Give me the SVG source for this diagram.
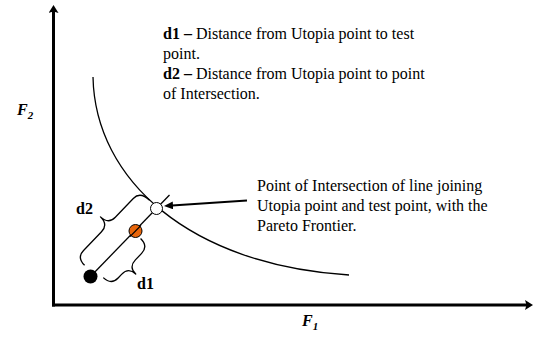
<svg xmlns="http://www.w3.org/2000/svg" width="538" height="339" viewBox="0 0 538 339">
<style>
.t{font-family:"Liberation Serif","Times New Roman",serif;font-size:16px;fill:#000}
.b{font-weight:bold}
.fi{font-family:"Liberation Serif","Times New Roman",serif;font-weight:bold;font-style:italic;fill:#000}
.ax{stroke:#000;stroke-width:3;fill:none}
.thin{stroke:#000;stroke-width:1.3;fill:none}
.br{stroke:#000;stroke-width:1.3;fill:none;stroke-linejoin:round}
</style>
<defs>
<marker id="axh" markerUnits="userSpaceOnUse" markerWidth="12" markerHeight="12" refX="2" refY="5" orient="auto">
<path d="M0,0 L8,5 L0,10 L1.5,5 z" fill="#000"/>
</marker>
<marker id="ptr" markerUnits="userSpaceOnUse" markerWidth="12" markerHeight="10" refX="1" refY="4" orient="auto">
<path d="M0,0 L9,4 L0,8 z" fill="#000"/>
</marker>
</defs>
<rect width="538" height="339" fill="#fff"/>

<g id="axes">
<path class="ax" d="M53.5,306.5 L53.5,11" marker-end="url(#axh)"/>
<path class="ax" d="M52,305 L527,305" marker-end="url(#axh)"/>
<text class="fi" x="17" y="115" font-size="16">F<tspan font-size="11" dy="4">2</tspan></text>
<text class="fi" x="302" y="326" font-size="16">F<tspan font-size="11" dy="4">1</tspan></text>
</g>

<g id="pareto-frontier">
<path class="thin" d="M93,77 C95,180 190,265 349,275"/>
</g>

<g id="connectors">
<path class="thin" d="M90.5,276.5 L169.5,195"/>
<path stroke="#000" stroke-width="2" fill="none" d="M247,200.5 L172,205.5" marker-end="url(#ptr)"/>
</g>

<g id="brace-d2">
<path class="br" transform="translate(90.5,276.5) rotate(-46.3)" d="M4,-12 Q4,-23 14,-23 L40,-23 Q50,-23 50,-34 Q50,-23 60,-23 L86,-23 Q96,-23 96,-10"/>
<text class="t b" x="76" y="214">d2</text>
</g>

<g id="brace-d1">
<path class="br" transform="translate(90.5,276.5) rotate(-46.3)" d="M8,10 Q8,21 18,21 L23,21 Q33,21 33,31 Q33,21 43,21 L52,21 Q62,21 62,10"/>
<text class="t b" x="137" y="289">d1</text>
</g>

<g id="utopia-point">
<circle cx="90.5" cy="276.5" r="7" fill="#000"/>
</g>

<g id="test-point">
<circle cx="135.5" cy="231" r="6.5" fill="#E8650A" stroke="#000" stroke-width="1"/>
<path class="thin" d="M130,236.6 L141,225.4"/>
</g>

<g id="intersection-point">
<circle cx="156.5" cy="208.5" r="6" fill="#fff" stroke="#000" stroke-width="1"/>
</g>

<g id="legend">
<text class="t" x="163" y="39"><tspan class="b">d1 –</tspan> Distance from Utopia point to test</text>
<text class="t" x="163" y="59">point.</text>
<text class="t" x="163" y="79"><tspan class="b">d2 –</tspan> Distance from Utopia point to point</text>
<text class="t" x="163" y="99">of Intersection.</text>
</g>

<g id="intersection-label">
<text class="t" x="257" y="191">Point of Intersection of line joining</text>
<text class="t" x="257" y="211">Utopia point and test point, with the</text>
<text class="t" x="257" y="231">Pareto Frontier.</text>
</g>
</svg>
